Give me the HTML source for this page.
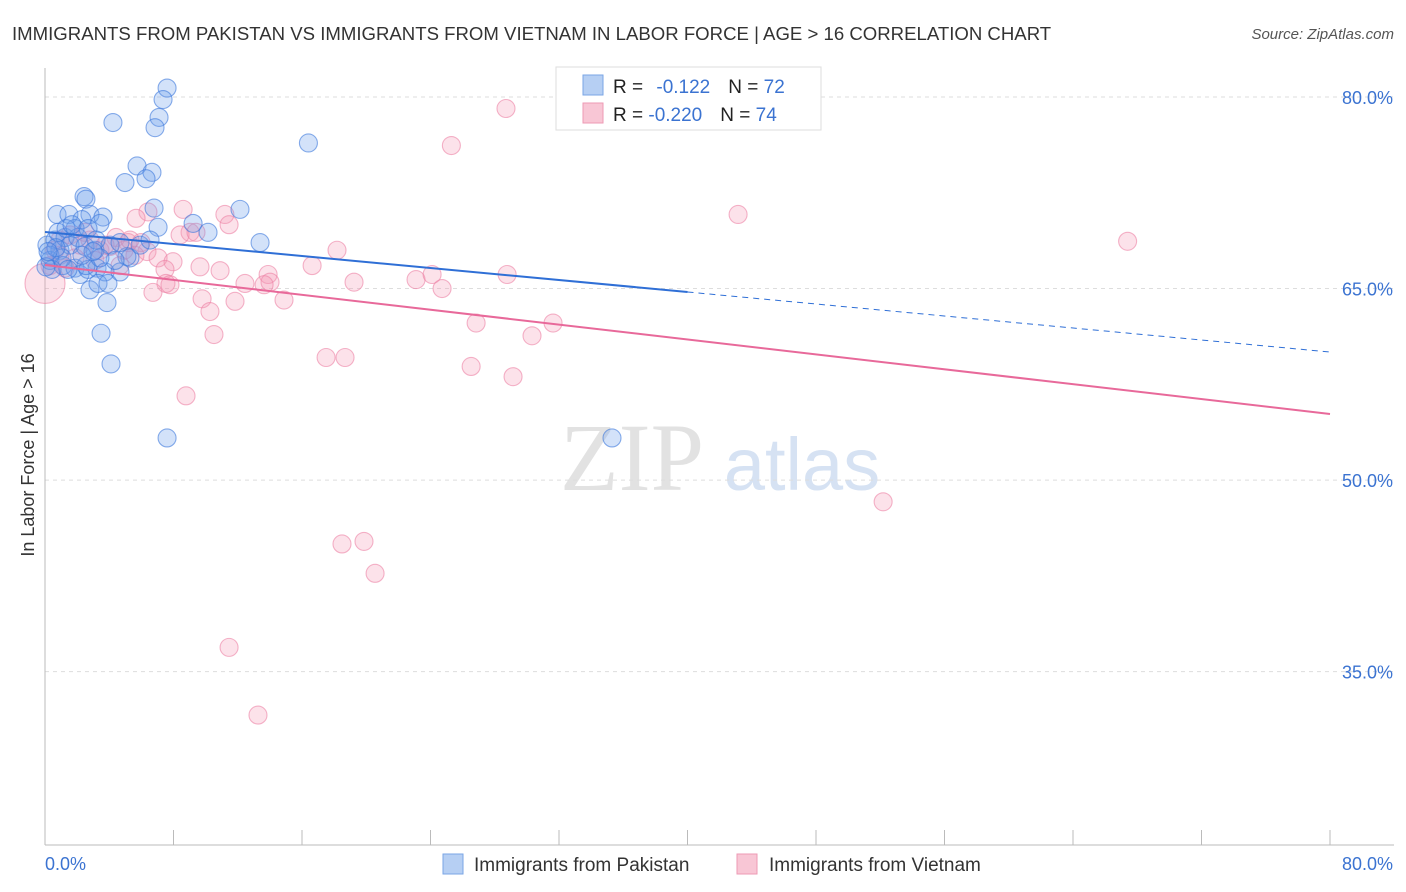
<!DOCTYPE html>
<html><head><meta charset="utf-8">
<style>
body{margin:0;background:#fff;font-family:"Liberation Sans",sans-serif;}
#wrap{position:relative;width:1406px;height:892px;overflow:hidden;}
</style></head>
<body>
<div id="wrap">
<svg id="chart" width="1406" height="892">
<text x="12" y="40" font-size="18.6" fill="#333">IMMIGRANTS FROM PAKISTAN VS IMMIGRANTS FROM VIETNAM IN LABOR FORCE | AGE &gt; 16 CORRELATION CHART</text>
<text x="1394" y="39" font-size="15" fill="#555" font-style="italic" text-anchor="end">Source: ZipAtlas.com</text>
<text x="34" y="455" font-size="18" fill="#333" text-anchor="middle" transform="rotate(-90 34 455)">In Labor Force | Age &gt; 16</text>
<g>
<text x="632" y="490" font-size="96" font-family="Liberation Serif" fill="#e2e2e2" text-anchor="middle">ZIP</text>
<text x="802" y="490" font-size="74" fill="#d6e2f3" text-anchor="middle">atlas</text>
</g>
<g id="grid"></g><g id="axes"></g><g id="pts"></g><g id="lines"></g>
<g>
<rect x="556" y="67" width="265" height="63" fill="#fff" stroke="#ddd"/>
<rect x="583" y="75" width="20" height="20" fill="#b6cff3" stroke="#7aa6e6"/>
<rect x="583" y="103" width="20" height="20" fill="#f8c6d5" stroke="#ee9ab4"/>
<text x="613" y="93" font-size="19" fill="#222">R = <tspan fill="#3b73d1" dx="8">-0.122</tspan><tspan dx="18" fill="#222">N = </tspan><tspan fill="#3b73d1">72</tspan></text>
<text x="613" y="121" font-size="19" fill="#222">R = <tspan fill="#3b73d1">-0.220</tspan><tspan dx="18" fill="#222">N = </tspan><tspan fill="#3b73d1">74</tspan></text>
</g>
<g>
<rect x="443" y="854" width="20" height="20" fill="#b6cff3" stroke="#7aa6e6"/>
<text x="474" y="871" font-size="19" fill="#333">Immigrants from Pakistan</text>
<rect x="737" y="854" width="20" height="20" fill="#f8c6d5" stroke="#ee9ab4"/>
<text x="769" y="871" font-size="19" fill="#333">Immigrants from Vietnam</text>
</g>
</svg>
</div>
<script>
const yTicks=[80,65,50,35];
const yTickLabels=["80.0%","65.0%","50.0%","35.0%"];
const xLabels=["0.0%","80.0%"];
const blueX=[7.6,7.35,7.1,6.85,4.23,16.4,5.73,6.66,6.29,4.98,2.43,2.55,6.79,12.14,0.75,1.49,2.8,3.61,9.22,7.04,10.15,3.42,2.3,1.87,13.39,5.29,5.1,0.12,0.31,0.62,0.93,1.25,1.56,2.05,2.49,3.11,4.05,1.12,1.87,2.18,2.68,3.24,3.74,4.67,2.8,3.3,3.92,3.86,3.49,4.11,7.6,35.3,0.31,0.44,0.06,0.81,1.31,1.68,1.06,2.68,3.18,4.67,5.92,6.54,2.55,4.36,0.68,0.19,2.3,3.42,2.99,1.43];
const blueY=[80.7,79.8,78.4,77.6,78.0,76.4,74.6,74.1,73.6,73.3,72.2,72.0,71.3,71.2,70.8,70.8,70.8,70.6,70.1,69.8,69.4,70.1,70.4,69.7,68.6,67.4,67.5,68.4,67.2,68.8,68.0,69.0,68.4,69.0,68.3,68.0,68.4,66.8,66.6,66.1,66.5,66.6,66.3,66.3,64.9,65.4,65.4,63.9,61.5,59.1,53.3,53.3,67.6,66.5,66.7,69.4,69.7,70.0,67.4,69.7,68.8,68.6,68.4,68.8,66.8,67.2,68.2,67.9,67.6,67.4,67.9,66.5];
const pinkX=[28.7,25.3,43.15,67.4,8.6,6.41,5.67,11.2,11.46,9.03,8.41,9.4,4.42,5.17,5.98,4.05,4.92,6.35,7.04,7.97,9.65,10.9,7.47,7.53,7.78,12.45,13.89,14.01,13.64,16.63,18.18,19.24,23.1,24.1,24.72,28.77,6.72,9.78,10.27,11.83,14.88,10.52,26.84,31.63,30.32,17.5,18.68,26.53,29.14,8.78,52.18,18.49,19.86,20.55,11.46,13.26,0.31,0.62,0.93,1.56,2.18,2.8,3.42,1.87,1.25,2.49,3.11,5.29,3.74,0.93,5.6,4.67,0];
const pinkY=[79.1,76.2,70.8,68.7,71.2,71.0,70.5,70.8,70.0,69.4,69.2,69.4,69.0,68.6,68.6,68.3,68.0,67.9,67.4,67.1,66.7,66.4,66.5,65.4,65.3,65.4,66.1,65.5,65.3,66.8,68.0,65.5,65.7,66.1,65.0,66.1,64.7,64.2,63.2,64.0,64.1,61.4,62.3,62.3,61.3,59.6,59.6,58.9,58.1,56.6,48.3,45.0,45.2,42.7,36.9,31.6,66.8,68.0,68.8,69.2,68.4,68.8,68.0,67.4,66.6,69.4,67.2,68.8,68.4,67.6,67.6,66.8,65.4];
const blueTrend=[69.43,60.03];
const pinkTrend=[66.84,55.18];
const blueSolidEnd=40;

const NS="http://www.w3.org/2000/svg";
const X0=45,X1=1330,Y80=97,PXPER=12.77;
const sx=v=>X0+(v/80)*(X1-X0);
const sy=v=>Y80+(80-v)*PXPER;
function mk(tag,attrs,parent){const e=document.createElementNS(NS,tag);for(const k in attrs)e.setAttribute(k,attrs[k]);parent.appendChild(e);return e;}
const grid=document.getElementById('grid'),axes=document.getElementById('axes'),pts=document.getElementById('pts'),lines=document.getElementById('lines');
yTicks.forEach((t,i)=>{
 const l=mk('line',{x1:X0,x2:1394,y1:sy(t),y2:sy(t),stroke:'#ddd','stroke-dasharray':'4,4'},grid);
 
 
 const tx=mk('text',{x:1393,y:sy(t)+7,'font-size':18,fill:'#3b73d1','text-anchor':'end'},axes);
 tx.textContent=yTickLabels[i];
 
 
});
const ax=mk('line',{x1:X0,x2:X0,y1:68,y2:845,stroke:'#bbb'},axes);


const bx=mk('line',{x1:X0,x2:1394,y1:845,y2:845,stroke:'#bbb'},axes);


for(let v=0;v<=80;v+=8){
 const t=mk('line',{x1:sx(v),x2:sx(v),y1:830,y2:845,stroke:'#bbb'},axes);
 
 
}
const xl0=mk('text',{x:45,y:870,'font-size':18,fill:'#3b73d1'},axes);xl0.textContent=xLabels[0];


const xl1=mk('text',{x:1393,y:870,'font-size':18,fill:'#3b73d1','text-anchor':'end'},axes);xl1.textContent=xLabels[1];


pinkX.forEach((x,i)=>{
 const big=(x===0);
 const c=mk('circle',{cx:sx(x),cy:sy(pinkY[i]),r:big?20:9,fill:'rgba(244,150,180,0.28)',stroke:'rgba(236,130,165,0.6)','stroke-width':1.1},pts);
 
 
});
blueX.forEach((x,i)=>{
 const c=mk('circle',{cx:sx(x),cy:sy(blueY[i]),r:9,fill:'rgba(110,160,235,0.3)',stroke:'rgba(60,120,220,0.6)','stroke-width':1.1},pts);
 
 
});
const bAt=v=>blueTrend[0]+(blueTrend[1]-blueTrend[0])*v/80;
const l1=mk('line',{x1:sx(0),y1:sy(bAt(0)),x2:sx(blueSolidEnd),y2:sy(bAt(blueSolidEnd)),stroke:'#2f6fd6','stroke-width':2},lines);


const l2=mk('line',{x1:sx(blueSolidEnd),y1:sy(bAt(blueSolidEnd)),x2:sx(80),y2:sy(bAt(80)),stroke:'#2f6fd6','stroke-width':1,'stroke-dasharray':'6,5'},lines);


const l3=mk('line',{x1:sx(0),y1:sy(pinkTrend[0]),x2:sx(80),y2:sy(pinkTrend[1]),stroke:'#e8699a','stroke-width':2},lines);


</script>
</body></html>
